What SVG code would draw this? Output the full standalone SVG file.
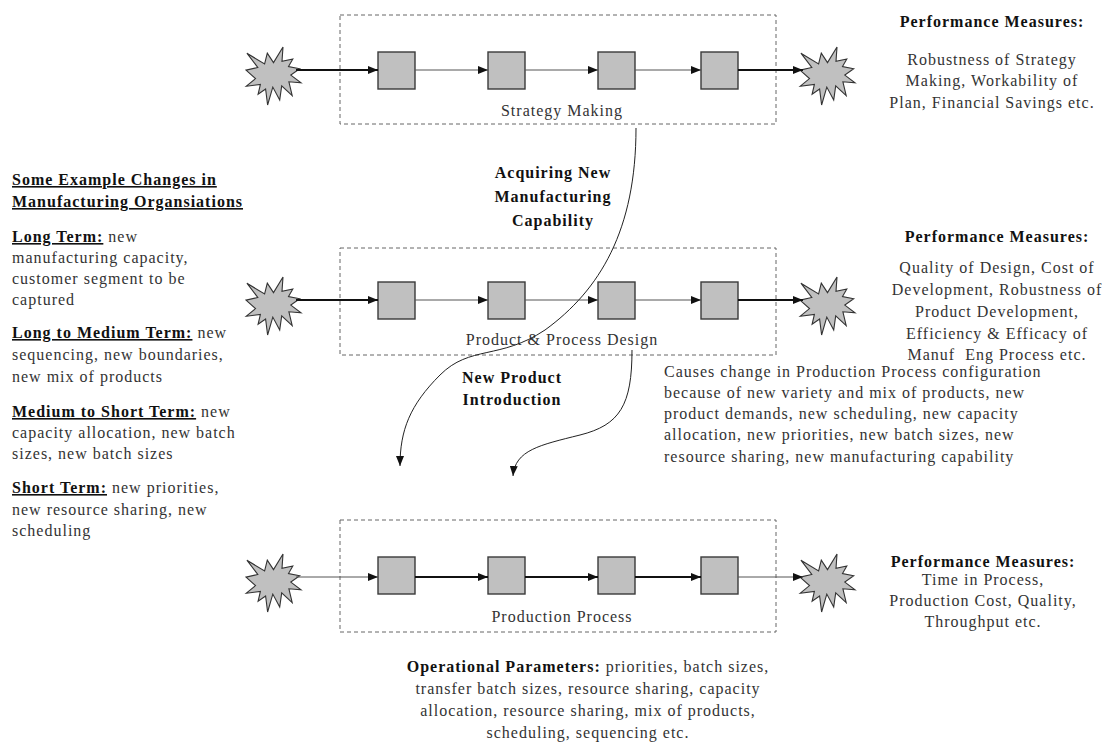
<svg xmlns="http://www.w3.org/2000/svg" width="1112" height="745" viewBox="0 0 1112 745">
  <style>
    .t { font-family: "Liberation Serif", "Times New Roman", serif; font-size: 16px; letter-spacing: 1px; fill: #333; }
    .b { font-weight: bold; fill: #111; }
    .u { text-decoration: underline; }
    .c { text-anchor: middle; }
    .stage { fill: none; stroke: #666; stroke-width: 1; stroke-dasharray: 4 3; }
    .sq { fill: #c0c0c0; stroke: #3a3a3a; stroke-width: 1.4; }
    .star { fill: #c0c0c0; stroke: #333; stroke-width: 1.1; stroke-linejoin: miter; }
    .thick { stroke: #111; stroke-width: 1.8; fill: none; }
    .thin { stroke: #555; stroke-width: 1; fill: none; }
    .curve { fill: none; stroke: #222; stroke-width: 1; }
  </style>
  <defs>
    <marker id="ah" markerWidth="10" markerHeight="8" refX="10" refY="4" orient="auto" markerUnits="userSpaceOnUse">
      <path d="M0,0 L10,4 L0,8 z" fill="#111"/>
    </marker>
    <!-- irregular explosion outline, 55 x 58 box from its top-left corner -->
    <path id="burst" class="star" d="M27.5,15.6 L37,0 L36,14.3 L46.8,12 L42.5,19.6 L53.7,21.8 L44.8,28.1 L55,35.7 L42.9,34.8 L46.2,48.6 L35.7,38.8 L33.7,53 L26.8,40.1 L21.6,58 L19.6,42 L12.1,47.3 L14.4,37.4 L0.3,39.2 L9.5,31.6 L0,23.1 L11.8,20.5 L0.9,6.2 L18.6,17 L21.3,6.2 Z"/>
  </defs>

  <!-- stage frames -->
  <g id="stage-strategy">
    <rect class="stage" x="340" y="15" width="436" height="109"/>
    <text class="t c" x="562" y="116">Strategy Making</text>
  </g>
  <g id="stage-design">
    <rect class="stage" x="340" y="248" width="436" height="107"/>
    <text class="t c" x="562" y="345">Product &amp; Process Design</text>
  </g>
  <g id="stage-production">
    <rect class="stage" x="340" y="520" width="436" height="112"/>
    <text class="t c" x="562" y="622">Production Process</text>
  </g>

  <!-- inputs and outputs -->
  <g id="in-strategy"><use href="#burst" x="246" y="47"/></g>
  <g id="out-strategy"><use href="#burst" x="800" y="47"/></g>
  <g id="in-design"><use href="#burst" x="246" y="277"/></g>
  <g id="out-design"><use href="#burst" x="800" y="277"/></g>
  <g id="in-production"><use href="#burst" x="246" y="554"/></g>
  <g id="out-production"><use href="#burst" x="800" y="554"/></g>

  <!-- process steps -->
  <g id="s1-1"><rect class="sq" x="378" y="52" width="37" height="37"/></g>
  <g id="s1-2"><rect class="sq" x="488" y="52" width="37" height="37"/></g>
  <g id="s1-3"><rect class="sq" x="598" y="52" width="37" height="37"/></g>
  <g id="s1-4"><rect class="sq" x="701" y="52" width="37" height="37"/></g>
  <g id="s2-1"><rect class="sq" x="378" y="282" width="37" height="37"/></g>
  <g id="s2-2"><rect class="sq" x="488" y="282" width="37" height="37"/></g>
  <g id="s2-3"><rect class="sq" x="598" y="282" width="37" height="37"/></g>
  <g id="s2-4"><rect class="sq" x="701" y="282" width="37" height="37"/></g>
  <g id="s3-1"><rect class="sq" x="378" y="557" width="37" height="37"/></g>
  <g id="s3-2"><rect class="sq" x="488" y="557" width="37" height="37"/></g>
  <g id="s3-3"><rect class="sq" x="598" y="557" width="37" height="37"/></g>
  <g id="s3-4"><rect class="sq" x="701" y="557" width="37" height="37"/></g>

  <!-- connectors -->
  <g id="connectors">
    <line class="thick" x1="296" y1="70" x2="378" y2="70" marker-end="url(#ah)"/>
    <line class="thin" x1="415" y1="70" x2="488" y2="70" marker-end="url(#ah)"/>
    <line class="thin" x1="525" y1="70" x2="598" y2="70" marker-end="url(#ah)"/>
    <line class="thin" x1="635" y1="70" x2="701" y2="70" marker-end="url(#ah)"/>
    <line class="thick" x1="738" y1="70" x2="803" y2="70" marker-end="url(#ah)"/>

    <line class="thick" x1="296" y1="300" x2="378" y2="300" marker-end="url(#ah)"/>
    <line class="thin" x1="415" y1="300" x2="488" y2="300" marker-end="url(#ah)"/>
    <line class="thin" x1="525" y1="300" x2="598" y2="300" marker-end="url(#ah)"/>
    <line class="thin" x1="635" y1="300" x2="701" y2="300" marker-end="url(#ah)"/>
    <line class="thick" x1="738" y1="300" x2="803" y2="300" marker-end="url(#ah)"/>

    <line class="thin" x1="296" y1="577" x2="378" y2="577" marker-end="url(#ah)"/>
    <line class="thick" x1="415" y1="577" x2="488" y2="577" marker-end="url(#ah)"/>
    <line class="thick" x1="525" y1="577" x2="598" y2="577" marker-end="url(#ah)"/>
    <line class="thick" x1="635" y1="577" x2="701" y2="577" marker-end="url(#ah)"/>
    <line class="thin" x1="738" y1="577" x2="803" y2="577" marker-end="url(#ah)"/>

    <path class="curve" d="M636,128 C636,230 600,290 545,330 C500,360 470,345 440,375 C410,405 400,430 400,466" marker-end="url(#ah)"/>
    <path class="curve" d="M632,350 C632,405 620,425 580,435 C540,445 515,450 513,476" marker-end="url(#ah)"/>
  </g>

  <!-- connector labels -->
  <g id="label-capability">
    <text class="t b c" x="553" y="178">Acquiring New</text>
    <text class="t b c" x="553" y="202">Manufacturing</text>
    <text class="t b c" x="553" y="226">Capability</text>
  </g>
  <g id="label-npi">
    <text class="t b c" x="512" y="383">New Product</text>
    <text class="t b c" x="512" y="405">Introduction</text>
  </g>

  <!-- performance measures -->
  <g id="pm-strategy">
    <text class="t b c" x="992" y="27">Performance Measures:</text>
    <text class="t c" x="992" y="65">Robustness of Strategy</text>
    <text class="t c" x="992" y="86">Making, Workability of</text>
    <text class="t c" x="992" y="108">Plan, Financial Savings etc.</text>
  </g>
  <g id="pm-design">
    <text class="t b c" x="997" y="242">Performance Measures:</text>
    <text class="t c" x="997" y="273">Quality of Design, Cost of</text>
    <text class="t c" x="997" y="295">Development, Robustness of</text>
    <text class="t c" x="997" y="317">Product Development,</text>
    <text class="t c" x="997" y="339">Efficiency &amp; Efficacy of</text>
    <text class="t c" x="997" y="360">Manuf&#160;&#160;Eng Process etc.</text>
  </g>
  <g id="pm-production">
    <text class="t b c" x="983" y="567">Performance Measures:</text>
    <text class="t c" x="983" y="585">Time in Process,</text>
    <text class="t c" x="983" y="606">Production Cost, Quality,</text>
    <text class="t c" x="983" y="627">Throughput etc.</text>
  </g>

  <!-- change notes -->
  <g id="changes">
    <text class="t b u" x="12" y="185">Some Example Changes in</text>
    <text class="t b u" x="12" y="207">Manufacturing Organsiations</text>
    <text class="t" x="12" y="242"><tspan class="b u">Long Term:</tspan> new</text>
    <text class="t" x="12" y="263">manufacturing capacity,</text>
    <text class="t" x="12" y="284">customer segment to be</text>
    <text class="t" x="12" y="305">captured</text>
    <text class="t" x="12" y="338"><tspan class="b u">Long to Medium Term:</tspan> new</text>
    <text class="t" x="12" y="360">sequencing, new boundaries,</text>
    <text class="t" x="12" y="382">new mix of products</text>
    <text class="t" x="12" y="417"><tspan class="b u">Medium to Short Term:</tspan> new</text>
    <text class="t" x="12" y="438">capacity allocation, new batch</text>
    <text class="t" x="12" y="459">sizes, new batch sizes</text>
    <text class="t" x="12" y="493"><tspan class="b u">Short Term:</tspan> new priorities,</text>
    <text class="t" x="12" y="515">new resource sharing, new</text>
    <text class="t" x="12" y="536">scheduling</text>
  </g>

  <g id="config-note">
    <text class="t" x="664" y="377">Causes change in Production Process configuration</text>
    <text class="t" x="664" y="398">because of new variety and mix of products, new</text>
    <text class="t" x="664" y="419">product demands, new scheduling, new capacity</text>
    <text class="t" x="664" y="440">allocation, new priorities, new batch sizes, new</text>
    <text class="t" x="664" y="462">resource sharing, new manufacturing capability</text>
  </g>

  <g id="operational-parameters">
    <text class="t c" x="588" y="672"><tspan class="b">Operational Parameters:</tspan> priorities, batch sizes,</text>
    <text class="t c" x="588" y="694">transfer batch sizes, resource sharing, capacity</text>
    <text class="t c" x="588" y="716">allocation, resource sharing, mix of products,</text>
    <text class="t c" x="588" y="738">scheduling, sequencing etc.</text>
  </g>
</svg>
